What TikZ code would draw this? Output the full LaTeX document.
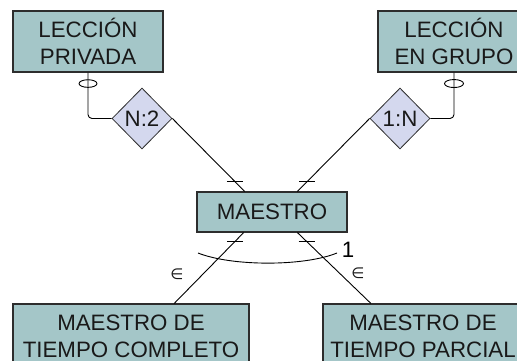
\documentclass[tikz,border=0pt]{standalone}
\usepackage{fontspec}
\setmainfont{Liberation Sans}
\newfontfamily\symfont{DejaVu Sans}
\usetikzlibrary{shapes.geometric}

\definecolor{entfill}{RGB}{164,198,200}
\definecolor{relfill}{RGB}{212,216,238}
\definecolor{edgegray}{RGB}{45,45,45}

\begin{document}
\begin{tikzpicture}[x=1pt, y=-1pt,
    entity/.style={draw=edgegray, line width=1.1pt, fill=entfill, align=center, inner sep=0pt,
        font=\fontsize{22.3}{27}\selectfont, text=black!90},
    relation/.style={diamond, draw=edgegray, line width=0.8pt, fill=relfill, inner sep=0pt,
        minimum width=60pt, minimum height=61pt, font=\fontsize{22.3}{26}\selectfont, text=black!90},
    link/.style={line width=0.9pt},
    small/.style={inner sep=0pt, font=\symfont\fontsize{15}{17}\selectfont, text=black!90}]
        \useasboundingbox (0,0) rectangle (517,361);
        % entities
        \node[entity, minimum width=150pt, minimum height=61pt] (privada) at (88,41.5) {LECCIÓN\\PRIVADA};
        \node[entity, minimum width=152pt, minimum height=61pt] (grupo) at (454,41.5) {LECCIÓN\\EN GRUPO};
        \node[entity, minimum width=150pt, minimum height=40pt] (maestro) at (272,212) {MAESTRO};
        \node[entity, minimum width=236pt, minimum height=64pt] (completo) at (131,336) {MAESTRO DE\\TIEMPO COMPLETO};
        \node[entity, minimum width=200pt, minimum height=64pt] (parcial) at (423,336) {MAESTRO DE\\TIEMPO PARCIAL};
        % relations
        \node[relation] (n2) at (142,118.5) {N:2};
        \node[relation] (n1) at (400,118.5) {1:N};
        % links
        \draw[link, rounded corners=4] (privada.south) |- (n2.west);
        \draw[link, rounded corners=4] (n1.east) -| (grupo.south);
        \draw[link] (n2.east) -- coordinate[pos=0.865] (t1) (maestro.143.5);
        \draw[link] (n1.west) -- coordinate[pos=0.865] (t2) (maestro.39.8);
        \draw[link] (maestro.216.5) -- coordinate[pos=0.125] (t3) (completo.37.3);
        \draw[link] (maestro.321.3) -- coordinate[pos=0.125] (t4) (parcial.148.9);
        \foreach \t in {t1,t2,t3,t4}
            \draw[link] ([xshift=-8pt]\t) -- ([xshift=8pt]\t);
        % optional marks
        \coordinate (o1) at ([yshift=-11pt]privada.south);
        \coordinate (o2) at ([yshift=-11pt]grupo.south);
        \draw[link] (o1) ellipse (9 and 3.8);
        \draw[link] (o2) ellipse (9.5 and 4);
        % disjoint arc
        \coordinate (arcl) at (198,253);
        \coordinate (arcr) at (337,253);
        \draw[link] (arcl) .. controls (232,266.5) and (304,266.5) .. (arcr);
        \node[inner sep=0pt, font=\fontsize{22.3}{26}\selectfont] (one) at (348,250) {1};
        \node[small] (in1) at (177,274) {∈};
        \node[small] (in2) at (358,273) {∈};
\end{tikzpicture}
\end{document}
